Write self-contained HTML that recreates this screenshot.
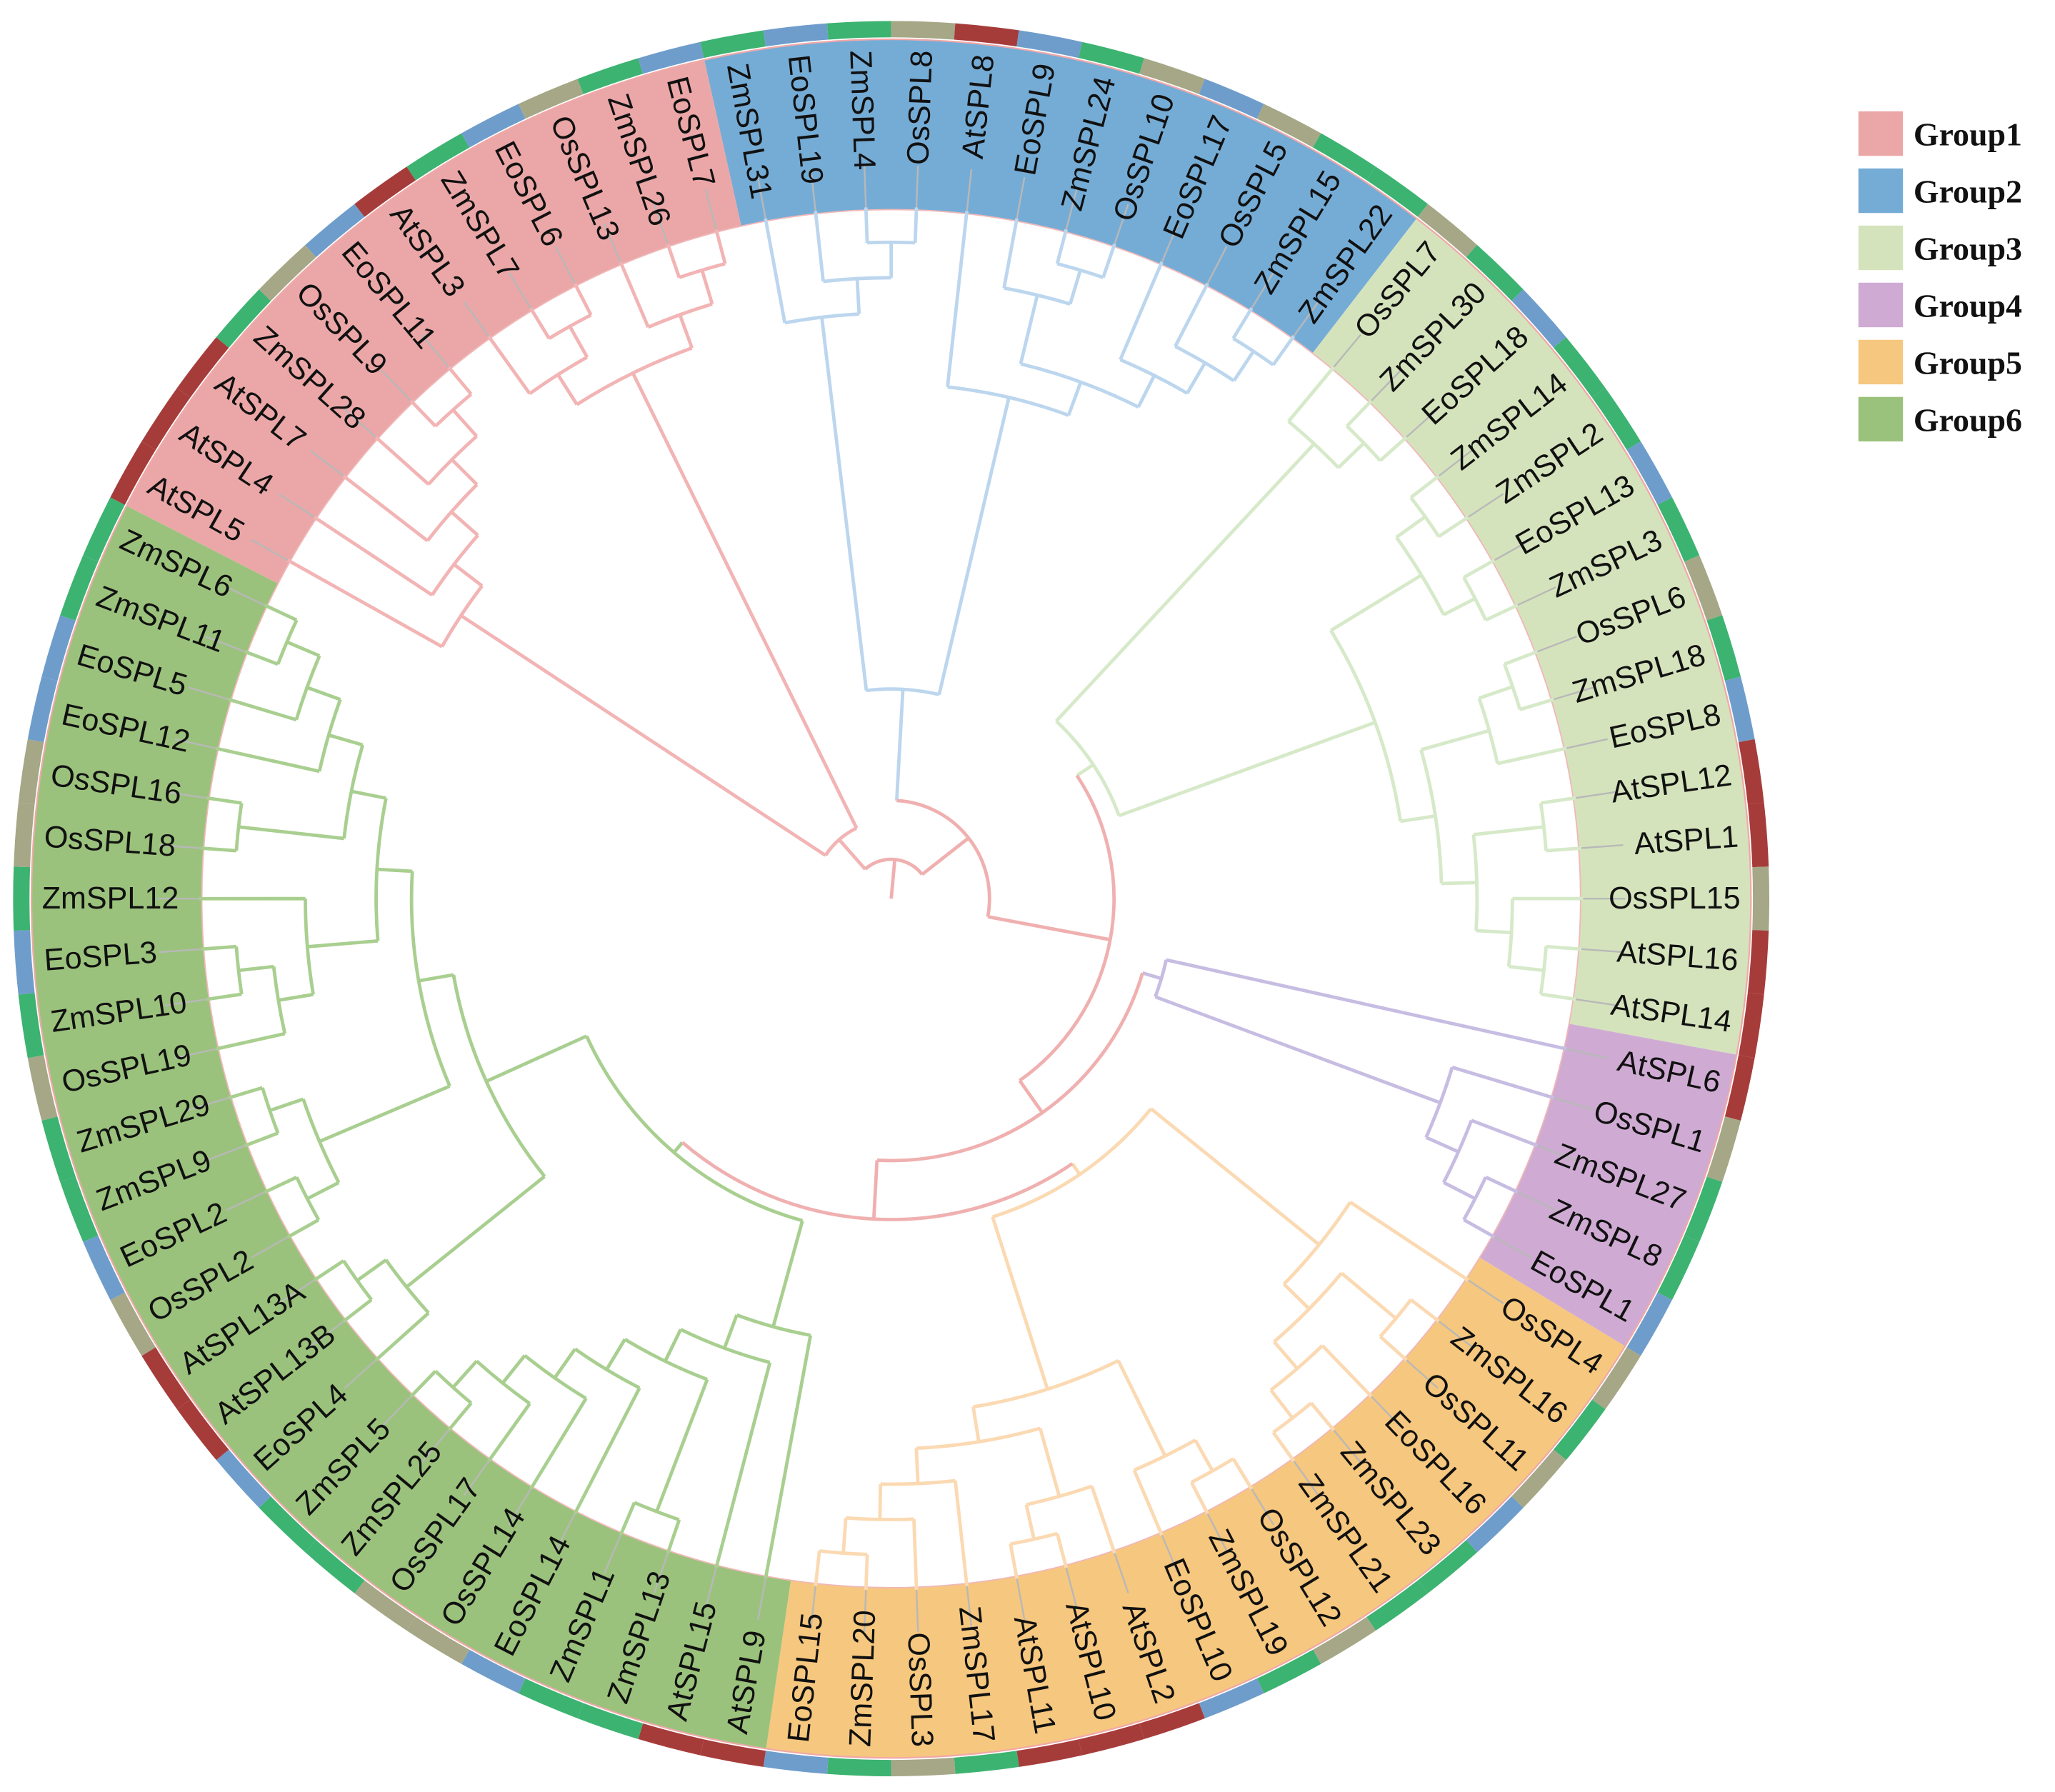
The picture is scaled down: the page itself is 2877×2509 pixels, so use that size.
<!DOCTYPE html>
<html><head><meta charset="utf-8"><style>
html,body{margin:0;padding:0;background:#fff;}
svg{display:block;}
</style></head><body>
<svg id="chart" width="2877" height="2509" viewBox="0 0 1568 1368" preserveAspectRatio="none" xmlns="http://www.w3.org/2000/svg">
<g id="ring"></g>
<g id="bands"></g>
<g id="tree"></g>
<g id="labels"></g>
<g id="legend"></g>
</svg>
<script>
// ---- data ----
const groupNames = ["Group1","Group2","Group3","Group4","Group5","Group6"];
const bandColors = ["#eba7a7","#75acd6","#d5e3bc","#cfabd4","#f6c77e","#9bc27c"];
const lineColors = ["#f2b4b4","#bcd6ee","#d6e9c9","#c7bde2","#fbd9b2","#a9cf90"];
const speciesColors = {At:"#a63c3a",Os:"#a5a786",Zm:"#3cb371",Eo:"#6f9dcb"};
const treeG2 = [["ZmSPL31",["EoSPL19",["ZmSPL4","OsSPL8"]]],["AtSPL8",[["EoSPL9",["ZmSPL24","OsSPL10"]],["EoSPL17",["OsSPL5",["ZmSPL15","ZmSPL22"]]]]]];
const treeG3 = [["OsSPL7",["ZmSPL30","EoSPL18"]],[[["ZmSPL14","ZmSPL2"],["EoSPL13","ZmSPL3"]],[[["OsSPL6","ZmSPL18"],"EoSPL8"],[["AtSPL12","AtSPL1"],["OsSPL15",["AtSPL16","AtSPL14"]]]]]];
const treeG4 = ["AtSPL6",["OsSPL1",["ZmSPL27",["ZmSPL8","EoSPL1"]]]];
const treeG5 = [["OsSPL4",[["ZmSPL16","OsSPL11"],["EoSPL16",["ZmSPL23","ZmSPL21"]]]],[[["OsSPL12","ZmSPL19"],"EoSPL10"],[["AtSPL2",["AtSPL10","AtSPL11"]],["ZmSPL17",["OsSPL3",["ZmSPL20","EoSPL15"]]]]]];
const treeG6 = [["AtSPL9",["AtSPL15",[["ZmSPL13","ZmSPL1"],["EoSPL14",["OsSPL14",["OsSPL17",["ZmSPL25","ZmSPL5"]]]]]]],[["EoSPL4",["AtSPL13B","AtSPL13A"]],[[["OsSPL2","EoSPL2"],["ZmSPL9","ZmSPL29"]],[[["OsSPL19",["ZmSPL10","EoSPL3"]],"ZmSPL12"],[["OsSPL18","OsSPL16"],["EoSPL12",["EoSPL5",["ZmSPL11","ZmSPL6"]]]]]]]];
const treeG1 = [["AtSPL5",["AtSPL4",["AtSPL7",["ZmSPL28",["OsSPL9","EoSPL11"]]]]],[["AtSPL3",["ZmSPL7","EoSPL6"]],["OsSPL13",["ZmSPL26","EoSPL7"]]]];
const groupTrees = [treeG1,treeG2,treeG3,treeG4,treeG5,treeG6];
const groupRootR = [60,160,185,215,255,255];
const backboneR = {root:30, X:75, Y:170, Z:200, W:245};

// ---- geometry ----
const cx=680, cy=686, leafR=528, bandIn=526, bandOut=656, ringOut=670, textOuter=648, nodeStep=27;
const NS="http://www.w3.org/2000/svg";
const step=360/86, start=-12.56;
function pt(r,a){const t=a*Math.PI/180;return [cx+r*Math.sin(t), cy-r*Math.cos(t)];}
function el(tag,attrs,parent){const e=document.createElementNS(NS,tag);for(const k in attrs)e.setAttribute(k,attrs[k]);parent.appendChild(e);return e;}
function arcPath(r,a1,a2){const p1=pt(r,a1),p2=pt(r,a2);const large=(a2-a1)>180?1:0;return `M${p1[0]},${p1[1]} A${r},${r} 0 ${large} 1 ${p2[0]},${p2[1]}`;}
function sector(r1,r2,a1,a2){const p1=pt(r2,a1),p2=pt(r2,a2),p3=pt(r1,a2),p4=pt(r1,a1);const large=(a2-a1)>180?1:0;
 return `M${p1[0]},${p1[1]} A${r2},${r2} 0 ${large} 1 ${p2[0]},${p2[1]} L${p3[0]},${p3[1]} A${r1},${r1} 0 ${large} 0 ${p4[0]},${p4[1]} Z`;}

const order=[1,2,3,4,5,0];
const leaves=[];
function collect(n,g){if(typeof n==="string")leaves.push({name:n,g:g});else n.forEach(c=>collect(c,g));}
order.forEach(g=>collect(groupTrees[g],g));
const leafAngle={};
leaves.forEach((l,i)=>{l.a=start+(i+0.5)*step;l.a1=start+i*step;l.a2=start+(i+1)*step;leafAngle[l.name]=l.a;});

const ringG=document.getElementById('ring'),bandG=document.getElementById('bands'),treeG=document.getElementById('tree'),labG=document.getElementById('labels'),legG=document.getElementById('legend');

order.forEach(g=>{
  const ls=leaves.filter(l=>l.g===g);
  const p=el('path',{d:sector(bandIn,bandOut,ls[0].a1,ls[ls.length-1].a2),fill:bandColors[g]},bandG);
  
  
});
el('circle',{cx:cx,cy:cy,r:bandOut,fill:'none',stroke:'#f0a8a8','stroke-width':1.2},bandG);
el('circle',{cx:cx,cy:cy,r:bandIn,fill:'none',stroke:'#f0b8b8','stroke-width':1},bandG);
leaves.forEach(l=>{
  const p=el('path',{d:sector(bandOut+1.5,ringOut,l.a1,l.a2),fill:speciesColors[l.name.slice(0,2)]},ringG);
  
  
});

function height(n){return typeof n==="string"?0:1+Math.max(...n.map(height));}
function drawSub(n,rootR,isRoot,color){
  if(typeof n==="string") return {a:leafAngle[n], r:leafR};
  const h=height(n);
  const r=isRoot?rootR:Math.max(rootR+20, leafR-h*nodeStep);
  const kids=n.map(c=>drawSub(c,rootR,false,color));
  kids.forEach(k=>{const p1=pt(r,k.a),p2=pt(k.r,k.a);el('line',{x1:p1[0],y1:p1[1],x2:p2[0],y2:p2[1],stroke:color,'stroke-width':2.6},treeG);});
  const amin=Math.min(...kids.map(k=>k.a)),amax=Math.max(...kids.map(k=>k.a));
  el('path',{d:arcPath(r,amin,amax),fill:'none',stroke:color,'stroke-width':2.6},treeG);
  return {a:(amin+amax)/2, r:r};
}
const groupNode={};
order.forEach(g=>{ groupNode[g]=drawSub(groupTrees[g],groupRootR[g],true,lineColors[g]); });

const bb="#f0b0b0";
function joinNode(r,kids,color){
  kids.forEach(k=>{const p1=pt(r,k.a),p2=pt(k.r,k.a);el('line',{x1:p1[0],y1:p1[1],x2:p2[0],y2:p2[1],stroke:k.c||color,'stroke-width':2.6},treeG);});
  let amin=Math.min(...kids.map(k=>k.a)),amax=Math.max(...kids.map(k=>k.a));
  if(amax-amin>180){const t=amin;amin=amax;amax=t+360;}
  el('path',{d:arcPath(r,amin,amax),fill:'none',stroke:color,'stroke-width':2.6},treeG);
  return {a:(amin+amax)/2,r:r};
}
const gn=g=>({a:groupNode[g].a,r:groupNode[g].r,c:lineColors[g]});
const W=joinNode(backboneR.W,[gn(4),gn(5)],bb);
const Z=joinNode(backboneR.Z,[gn(3),W],bb);
const Y=joinNode(backboneR.Y,[gn(2),Z],bb);
const X=joinNode(backboneR.X,[gn(1),Y],bb);
const R=joinNode(backboneR.root,[X,gn(0)],bb);
{const p1=pt(0,R.a),p2=pt(R.r,R.a);el('line',{x1:p1[0],y1:p1[1],x2:p2[0],y2:p2[1],stroke:bb,'stroke-width':2.6},treeG);}

// labels + leaders
leaves.forEach(l=>{
  const p1=pt(leafR,l.a),p2=pt(560,l.a);
  el('line',{x1:p1[0],y1:p1[1],x2:p2[0],y2:p2[1],stroke:'#b8b8b8','stroke-width':1.3},labG);
  const p=pt(textOuter,l.a);
  let a=((l.a%360)+360)%360;
  const right=a<180;
  const rot=right?a-90:a+90;
  const t=el('text',{x:p[0],y:p[1],transform:`rotate(${rot} ${p[0]} ${p[1]})`,'text-anchor':right?'end':'start','dominant-baseline':'central','font-family':'"Liberation Sans", sans-serif','font-size':23.5,fill:'#111'},labG);
  t.textContent=l.name;
  
  
});

groupNames.forEach((g,i)=>{
  const y=85+i*43.6;
  const r=el('rect',{x:1418,y:y,width:34,height:34,fill:bandColors[i]},legG);
  
  
  const t=el('text',{x:1460,y:y+26,'font-family':'"Liberation Serif", serif','font-weight':'bold','font-size':25,fill:'#111'},legG);
  t.textContent=g;
  
  
});
</script>
</body></html>
